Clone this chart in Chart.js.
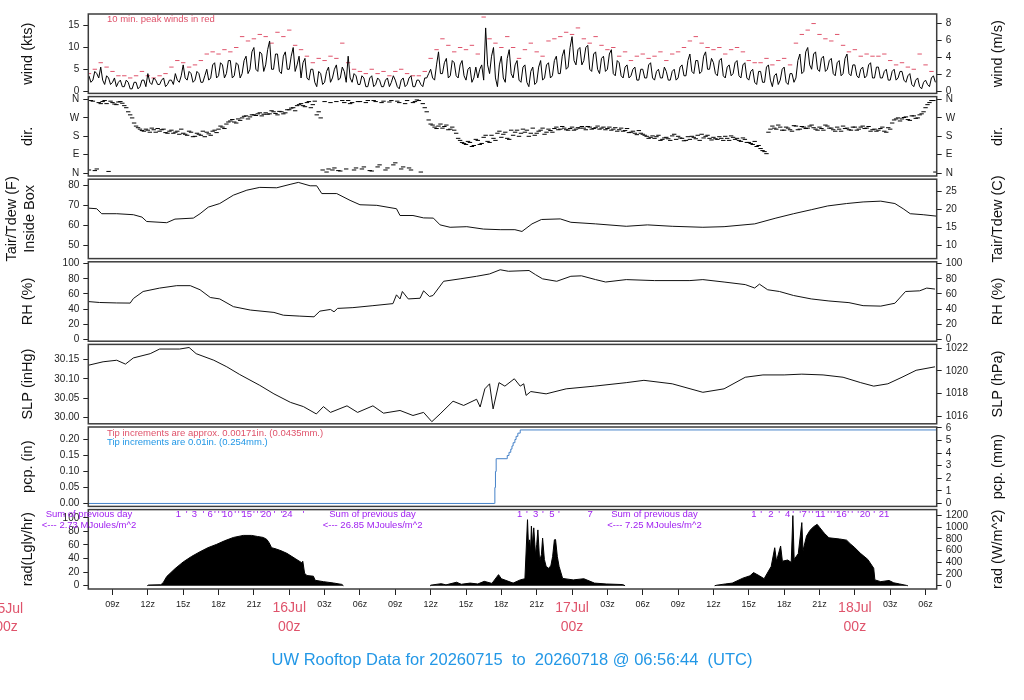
<!DOCTYPE html>
<html>
<head>
<meta charset="utf-8">
<script src="https://cdn.jsdelivr.net/npm/chart.js@4/dist/chart.umd.min.js"></script>
<style>
  body { margin: 0; background: #fff; }
  #wrap { position: relative; width: 1024px; height: 700px; overflow: hidden; }
  #wrap canvas { position: absolute; left: 0; top: 0; }
</style>
</head>
<body>
<div id="wrap"></div>
<script>
// time axis is hours since 15Jul 00z
var X0 = 6.946, X1 = 78.946;
var xTickHours = [9, 12, 15, 18, 21, 24, 27, 30, 33, 36, 39, 42, 45, 48, 51, 54, 57, 60, 63, 66, 69, 72, 75, 78];
var dayNames = ['15Jul', '16Jul', '17Jul', '18Jul'];

// wind speed (kts), one reading every 10 min from 07z
var windStart = 7, windStep = 1 / 6;
var windKts = [
  3.5, 2, 2.5, 4.5, 4, 3,    5.5, 2.5, 1.5, 3.5, 3, 1.5,    2, 3, 1, 2, 2.5, 1,
  1, 2.5, 2, 0.5, 0.5, 2,    2, 0.5, 1, 2.5, 2.5, 1,        4, 2, 1.5, 3, 2.5, 1.5,
  1.5, 2.5, 3, 1, 1.5, 2.5,  2.5, 1.5, 4, 2.5, 2, 3.5,      6, 3, 2.5, 4.5, 4, 2,
  2.5, 4.5, 4, 2, 2, 3.5,    5, 2.5, 3, 6, 6.5, 3,          3.5, 6.5, 6, 3, 4, 7,
  7, 3, 3.5, 6.5, 6, 3,      4, 7, 8, 4, 5, 9,              10, 5, 4.5, 9, 8.5, 4.5,
  6, 9.5, 11.5, 5, 5, 8.5,   8.5, 4.5, 4, 8, 9, 5,          5, 8, 10, 4.5, 6, 8,
  3, 6.5, 7.5, 3, 2.5, 5,    5, 2, 1, 4.5, 4, 1.5,          2, 4.5, 5.5, 2, 3, 5,
  6, 2.5, 3, 5.5, 4.5, 2,    8, 3, 2, 4, 3.5, 1.5,          1.5, 3.5, 3, 1, 1, 3,
  3.5, 1, 1.5, 3, 2.5, 1,    1, 2.5, 3, 1, 2, 3.5,          2.5, 1, 0.5, 2.5, 3, 1,
  1.5, 3, 3.5, 1, 1, 2.5,    2.5, 1.5, 1, 3, 3, 4,          5, 3, 2.5, 6, 9, 4,
  4, 6.5, 7.5, 3, 3.5, 7,    6.5, 3.5, 3, 6, 7, 3.5,        2.5, 5, 5.5, 2, 3, 5.5,
  3, 5, 6, 2.5, 14.5, 6,     4, 8, 10, 3, 1, 6,             8, 3, 2, 7.5, 9.5, 4,
  3, 6, 7, 2.5, 2, 5.5,      6, 2, 1, 4.5, 5.5, 1.5,        2, 5.5, 7, 2.5, 3, 6,
  6.5, 3, 3.5, 7, 8, 4,      4, 8, 9.5, 5, 5.5, 10,         12.5, 7, 6, 9.5, 10, 6,
  7, 10, 10.5, 5, 4.5, 8.5,  9, 5, 4, 7.5, 8, 4.5,          5, 8.5, 9.5, 4, 3.5, 7,
  6.5, 3.5, 3, 5.5, 6, 3,    3.5, 5, 5.5, 2.5, 2.5, 5,      5, 3, 3, 6, 6.5, 3,
  2.5, 4.5, 5, 3, 3, 5.5,    4.5, 2.5, 2.5, 4.5, 5, 2.5,    3, 5.5, 6, 3.5, 3.5, 7,
  8.5, 4.5, 4, 7, 7, 4,      4.5, 8, 9, 5, 5, 7.5,          6.5, 4, 3.5, 7, 7.5, 3.5,
  3, 5.5, 6, 3.5, 4, 6.5,    7, 3.5, 3, 6, 6.5, 3,          2.5, 4.5, 5, 2, 1.5, 4.5,
  4.5, 2, 2, 5.5, 6, 2.5,    1, 3.5, 4, 1.5, 2.5, 5,        5.5, 2, 1.5, 4, 4, 2,
  3, 7, 8.5, 4, 4.5, 9,      10, 6, 5, 8.5, 9, 5,           4.5, 7.5, 8, 4.5, 5, 7,
  7.5, 4, 3.5, 6.5, 7, 3.5,  4, 7.5, 8.5, 4, 3.5, 6,        6, 3.5, 3, 5, 5.5, 3,
  3.5, 6, 6.5, 3, 3, 5.5,    5.5, 3, 3, 4.5, 5, 2.5,        2.5, 4.5, 5, 2.5, 3, 4.5,
  4.5, 2.5, 2, 3.5, 4, 1.5,  1, 2.5, 3, 1, 0.5, 2,          2.5, 1.5, 1, 3, 3.5, 2
];
// 10 min peak wind (kts), every 30 min from 07z
var peakStart = 7, peakStep = 0.5;
var peakKts = [
  4, 5,   6.5, 5.5,   4.5, 3.5,   3.5, 3,   3.5, 4.5,   3.5, 3,   3.5, 4,   5.5, 7,
  6.5, 5.5,   6, 7,   8.5, 9,   8.5, 9.5,   9, 10,   12.5, 11.5,   12, 13,   12.5, 11,
  13.5, 12.5,   14, 10.5,   9.5, 8,   6.5, 7.5,   7, 8,   7.5, 11,   6.5, 5,   4.5, 4,
  5, 4,   4.5, 3.5,   4.5, 5,   4, 3.5,   3.5, 4.5,   7.5, 9.5,   12, 10.5,   9, 10,
  9.5, 10.5,   8.5, 17,   12, 11,   10, 12.5,   10, 7.5,   9.5, 11,   9, 8,   11.5, 12,
  12.5, 13.5,   13, 14.5,   12, 11,   12.5, 10.5,   9.5, 10,   8, 9,   7, 8,   8.5, 7.5,
  8, 9,   7, 8.5,   9, 10,   11.5, 12.5,   11, 10,   9.5, 10,   8.5, 9.5,   10, 9,
  7, 6.5,   6.5, 7.5,   6, 7,   7.5, 6,   11, 13,   14, 15.5,   13, 12,   11.5, 13,
  10.5, 9,   9.5, 8,   8.5, 8,   8, 8.5,   7, 6,   6.5, 5.5,   5, 8.5,   6, 4.5
];
// wind direction (deg), two interleaved 20 min series from 07z and 07:10z
var dirStart = 7, dirStart2 = 7 + 1 / 6, dirStep = 1 / 3;
var dirDeg = [
  15, 352, 20,   340, 355, 8,   345, 335, 350,   330, 300, 270,   230, 215, 205,   210, 220, 200,
  205, 215, 195,   210, 200, 190,   195, 185, 200,   180, 190, 205,   200, 185, 210,   215, 225, 240,
  255, 250, 265,   270, 280, 275,   285, 290, 280,   295, 290, 300,   285, 300, 295,   310, 320, 330,
  340, 325, 350,   335, 285, 270,   350, 20, 15,   350, 10, 345,   355, 345, 25,   350, 30, 355,
  10, 350, 40,   352, 25, 355,   50, 345, 30,   355, 15, 350,   355, 340, 300,   240, 225, 230,
  220, 235, 215,   210, 170, 150,   140, 150, 135,   160, 145, 185,   150, 170, 195,   175, 200, 165,
  185, 210, 195,   200, 180, 220,   195, 210, 190,   215, 200, 225,   215, 220, 210,   225, 215, 220,
  220, 228, 215,   222, 215, 225,   218, 210, 222,   212, 205, 218,   200, 195, 208,   190, 180, 175,
  170, 185, 165,   175, 160, 190,   180, 170, 160,   165, 175, 185,   190, 180, 170,   175, 165, 170,
  180, 160, 175,   170, 155, 165,   150, 140, 130,   120, 105, 200,   230, 215, 225,   210, 220, 205,
  230, 215, 225,   220, 235, 215,   225, 210, 230,   220, 205, 215,   230, 220, 210,   225, 215, 230,
  220, 205, 215,   210, 225, 200,   215, 260, 270,   265, 275, 258,   280, 270, 290,   320, 345, 355
];
var dirDeg2 = [
  355, 12, 345,   350, 340, 352,   338, 348, 342,   320, 285, 245,   222, 208, 215,   200, 212, 218,
  212, 198, 205,   195, 205, 215,   190, 205, 178,   195, 185, 178,   192, 205, 198,   230, 218, 250,
  262, 245, 258,   278, 265, 285,   282, 295, 288,   288, 305, 292,   302, 290, 310,   318, 305, 335,
  330, 345, 320,   352, 300, 15,   5, 345, 25,   12, 355, 20,   340, 15, 350,   20, 345, 12,
  355, 30, 345,   15, 348, 40,   352, 20, 340,   25, 345, 358,   5, 320, 260,   235, 218, 240,
  228, 212, 225,   195, 160, 145,   155, 130, 165,   140, 175, 155,   185, 160, 205,   190, 170, 210,
  200, 180, 215,   210, 195, 185,   205, 220, 200,   208, 218, 212,   228, 212, 218,   210, 222, 228,
  212, 225, 218,   230, 220, 212,   225, 215, 205,   220, 208, 198,   205, 188, 195,   185, 170, 182,
  178, 160, 172,   168, 182, 165,   172, 158, 178,   180, 168, 160,   172, 185, 162,   168, 178, 160,
  170, 182, 165,   160, 172, 150,   145, 155, 135,   110, 95, 215,   220, 235, 210,   225, 212, 232,
  212, 228, 218,   230, 222, 210,   218, 235, 220,   212, 225, 205,   218, 212, 225,   210, 225, 218,
  228, 212, 205,   218, 205, 222,   245, 265, 255,   272, 262, 280,   268, 285, 300,   335, 355, 5
];
var dirTicks = [0, 90, 180, 270, 360];
var dirNames = ['N', 'E', 'S', 'W', 'N'];

// air temperature inside box (F)
var tairT = [6.95, 7.66, 8.08, 9.36, 10.77, 11.5, 11.9, 13.6, 14.3, 15.86, 16.43, 17.13, 18.1, 19.26, 20.4, 21.5,
  22.94, 24.07, 24.77, 25.77, 26.33, 26.76, 28.03, 29.16, 30.0, 31.43, 33.1, 33.4, 34.5, 35.4, 36.23, 36.8,
  37.65, 39.07, 40.48, 41.9, 43.15, 43.75, 44.6, 45.4, 47.0, 47.9, 50.0, 52.6, 54.4, 56.5, 59.1, 60.9,
  63.5, 65.3, 66.8, 68.3, 69.7, 71.3, 72.7, 74.2, 75.4, 76.1, 76.7, 77.8, 78.9];
var tairF = [68.5, 68.2, 65.7, 65.7, 65.2, 64.0, 61.8, 61.2, 63.0, 63.5, 65.7, 69.0, 70.8, 75.0, 77.5, 78.9,
  78.7, 80.4, 81.4, 79.7, 79.7, 75.8, 75.8, 72.4, 70.2, 69.9, 68.2, 64.8, 64.8, 63.6, 63.5, 60.1,
  58.9, 59.2, 58.0, 57.7, 57.7, 56.8, 60.6, 62.8, 63.1, 61.4, 60.6, 59.4, 60.1, 59.4, 58.9, 59.2,
  60.6, 63.5, 65.7, 67.7, 69.6, 70.8, 71.6, 72.0, 70.8, 68.2, 65.7, 65.2, 64.5];
var tairTicksF = [50, 60, 70, 80];
var tairTicksC = [10, 15, 20, 25];

// relative humidity (%)
var rhT = [6.95, 7.9, 9.36, 10.5, 10.77, 11.6, 13.0, 14.45, 15.6, 16.43, 17.3, 18.1, 19.26, 20.7, 22.7, 23.5,
  24.9, 26.1, 26.6, 27.5, 27.8, 28.1, 29.4, 31.1, 32.8, 33.1, 33.4, 33.6, 34.1, 35.1, 35.4, 35.9,
  36.2, 37.1, 38.5, 39.9, 41.0, 41.9, 42.6, 44.35, 44.9, 45.5, 46.7, 47.9, 48.8, 50.0, 50.85, 52.6,
  55.0, 58.0, 59.1, 60.9, 62.7, 63.5, 63.9, 64.6, 65.6, 66.8, 68.3, 69.8, 71.5, 72.7, 74.2, 75.4,
  76.3, 77.5, 78.1, 78.8];
var rhV = [50, 48.8, 48.2, 48, 54, 63.3, 67.8, 71, 71, 65.6, 55.4, 53.5, 43.3, 38.8, 35.7, 32,
  30.8, 29.9, 37.4, 39.6, 36.5, 41, 42, 44.6, 47.3, 58.9, 53.5, 63.3, 53.5, 54.4, 64.2, 56.7,
  58, 76.8, 80, 83.4, 86.5, 92, 90, 91, 85.5, 80, 76.8, 83.4, 84, 79, 75.8, 79,
  77.7, 77.7, 79, 75.8, 72.4, 67.9, 73, 65.6, 63.3, 58, 53.5, 50.8, 48.6, 44.6, 44, 47.8,
  63.3, 64.2, 67.8, 66.5];
var rhTicks = [0, 20, 40, 60, 80, 100];

// sea level pressure (inHg)
var slpT = [6.95, 8.2, 9.36, 10.1, 10.77, 12.2, 13.0, 14.7, 15.5, 16.1, 17.6, 18.7, 19.8, 21.5, 22.7, 24.1,
  25.2, 26.3, 26.9, 27.5, 28.9, 29.8, 31.1, 32.0, 33.4, 34.5, 35.4, 36.1, 36.8, 37.9, 38.8, 39.9,
  40.2, 40.6, 41.0, 41.3, 41.8, 42.3, 43.1, 43.6, 43.9, 44.1, 44.5, 45.8, 47.5, 49.9, 52.6, 54.1,
  56.5, 59.1, 60.9, 62.7, 64.2, 66.0, 67.5, 69.3, 71.0, 72.5, 73.6, 74.8, 76.0, 77.2, 78.8];
var slpV = [30.135, 30.144, 30.148, 30.138, 30.154, 30.165, 30.177, 30.177, 30.181, 30.165, 30.148, 30.131,
  30.111, 30.083, 30.061, 30.039, 30.028, 30.009, 30.028, 30.013, 30.030, 30.013, 30.030, 30.011,
  30.018, 30.005, 30.013, 29.989, 30.009, 30.042, 30.031, 30.047, 30.027, 30.074, 30.087, 30.022,
  30.090, 30.081, 30.100, 30.081, 30.087, 30.057, 30.067, 30.061, 30.074, 30.081, 30.090, 30.096,
  30.087, 30.065, 30.074, 30.104, 30.110, 30.110, 30.112, 30.110, 30.104, 30.090, 30.081, 30.087,
  30.104, 30.122, 30.131];
var slpTicksIn = [30.00, 30.05, 30.10, 30.15];
var slpTicksHpa = [1016, 1018, 1020, 1022];

// accumulated precipitation (in)
var pcpT = [6.946, 41.40, 41.45, 41.50, 41.56, 42.40, 42.50, 42.65, 42.80, 42.90, 43.00, 43.15, 43.25, 43.40, 43.60, 78.946];
var pcpIn = [0, 0, 0.05, 0.10, 0.14, 0.14, 0.15, 0.16, 0.17, 0.18, 0.19, 0.20, 0.21, 0.22, 0.23, 0.23];
var pcpTicksIn = [0, 0.05, 0.10, 0.15, 0.20];
var pcpTicksMm = [0, 1, 2, 3, 4, 5, 6];

// solar radiation (W/m^2), null = night gap
var radT = [11.95, 12.05, 13.1, 13.3, 13.6, 14.3, 15.0, 15.7, 16.43, 17.1, 17.85, 18.5, 19.26, 20.1, 20.8, 21.3,
  21.8, 22.1, 22.3, 22.5, 22.9, 23.3, 23.8, 24.5, 25.05, 25.15, 25.3, 25.5, 26.05, 26.2, 26.9, 27.75, 28.46, 28.6,
  32,
  35.95, 36.0, 36.9, 37.3, 38.2, 38.6, 39.35, 40.0, 40.55, 41.2, 41.76, 42.0, 43.0, 43.6, 44.0, 44.22,
  44.3, 44.4, 44.48, 44.55, 44.65, 44.75, 44.9, 45.0, 45.1, 45.25, 45.4, 45.5, 45.65, 45.8, 46.0, 46.2,
  46.35, 46.5, 46.6, 46.75, 46.9, 47.2, 48.1, 49.0, 49.9, 50.9, 52.3, 52.5,
  56,
  60.1, 60.3, 61.0, 61.6, 62.5, 63.1, 63.4, 63.9, 64.3, 64.9, 65.2, 65.35, 65.7, 65.85, 66.3, 66.6,
  66.74, 66.85, 67.2, 67.5, 67.6, 67.9, 68.2, 68.5, 68.8, 69.0, 69.4, 69.8, 70.7, 71.3, 71.6, 72.0,
  72.5, 73.1, 73.6, 73.7, 74.2, 74.9, 75.3, 75.8, 76.4, 76.5];
var radW = [0, 12, 17, 52, 157, 291, 407, 500, 582, 651, 709, 768, 826, 861, 861, 843,
  826, 791, 733, 651, 628, 599, 554, 465, 395, 419, 215, 174, 163, 93, 70, 47, 23, 0,
  null,
  0, 10, 35, 15, 60, 25, 45, 30, 75, 40, 190, 120, 45, 100, 120, 1130,
  700, 785, 600, 1020, 700, 990, 535, 700, 955, 420, 535, 815, 450, 330, 300, 340,
  500, 785, 790, 500, 330, 125, 100, 120, 45, 30, 20, 0,
  null,
  0, 10, 30, 45, 130, 170, 225, 170, 120, 330, 650, 420, 680, 420, 440, 400,
  1200, 450, 550, 1080, 600, 850, 950, 1010, 1050, 1000, 900, 820, 800, 780, 720, 650,
  550, 450, 300, 100, 70, 90, 50, 30, 5, 0];
var radTicksL = [0, 20, 40, 60, 80, 100];
var radTicksW = [0, 200, 400, 600, 800, 1000, 1200];

// hourly marks and daily sums written along the top of the radiation panel
var radMarkT = [14.59, 15.30, 15.94, 16.71, 17.28, 17.70, 18.0, 18.3, 18.75, 19.4, 19.7, 20.0, 20.39, 21.0, 21.3, 21.6,
  22.03, 22.74, 23.36, 23.84, 25.2,
  43.56, 44.16, 44.92, 45.52, 46.28, 46.88, 49.53,
  63.43, 64.05, 64.87, 65.58, 66.29, 66.77, 67.36, 67.7, 68.13, 68.42, 68.72, 69.09, 69.74, 69.99, 70.25, 70.5,
  70.87, 71.44, 71.78, 72.29, 72.86, 73.64, 74.47];
var radMarkLbl = ['1', "'", '3', "'", '6', "'", "'", "'", '10', "'", "'", "'", '15', "'", "'", "'",
  '20', "'", "'", '24', "'",
  '1', "'", '3', "'", '5', "'", '7',
  '1', "'", '2', "'", '4', "'", "'", '7', "'", "'", "'", '11', "'", "'", "'", "'",
  '16', "'", "'", "'", '20', "'", '21'];
var radSumT = [7.0, 31.07, 55.0];
var radSumMJ = ['2.73', '26.85', '7.25'];

var windTicksKts = [0, 5, 10, 15];
var windTicksMs = [0, 2, 4, 6, 8];

var FONT = "'Liberation Sans', Arial, Helvetica, sans-serif";
var RED = '#DF536B', BLUE = '#2297E6', PURPLE = '#A020F0', INK = '#222';
var wrap = document.getElementById('wrap');

function pts(xs, ys) {
  return xs.map(function (x, i) { return {x: x, y: ys[i]}; });
}
function regular(start, step, ys) {
  return ys.map(function (y, i) { return {x: start + i * step, y: y}; });
}

function yAxis(pos, min, max, ticks, fmt) {
  return {
    type: 'linear', position: pos, min: min, max: max,
    grid: {drawOnChartArea: false, drawTicks: true, tickLength: 5, color: INK},
    border: {display: false},
    ticks: {font: {family: FONT, size: 10}, color: INK, padding: 4, autoSkip: false,
      callback: function (v, i) { return fmt(v, i); }},
    afterBuildTicks: function (s) { s.ticks = ticks.map(function (v) { return {value: v}; }); },
    afterFit: function (s) { s.width = pos === 'left' ? 88.3 : 1024 - 936.7; }
  };
}

function hourLabel(v) {
  var h = Math.round(v);
  if (h % 24 === 0) { return [dayNames[h / 24], '00z']; }
  var z = h % 24;
  return (z < 10 ? '0' : '') + z + 'z';
}

function xAxis(shown) {
  if (!shown) { return {type: 'linear', min: X0, max: X1, display: false}; }
  return {
    type: 'linear', min: X0, max: X1, position: 'bottom',
    grid: {drawOnChartArea: false, tickLength: 6, color: INK},
    border: {display: false},
    afterBuildTicks: function (s) { s.ticks = xTickHours.map(function (h) { return {value: h}; }); },
    afterFit: function (s) { s.height = 60; },
    ticks: {
      autoSkip: false, maxRotation: 0, minRotation: 0, padding: 4.5,
      callback: function (v) { return hourLabel(v); },
      color: function (c) { return c.tick && c.tick.value % 24 === 0 ? RED : INK; },
      font: function (c) {
        return c.tick && c.tick.value % 24 === 0 ? {family: FONT, size: 14, lineHeight: 1.3} : {family: FONT, size: 9};
      }
    }
  };
}

function text(ctx, s, x, y, size, color, align) {
  ctx.font = size + 'px ' + FONT;
  ctx.fillStyle = color;
  ctx.textAlign = align || 'left';
  ctx.textBaseline = 'middle';
  ctx.fillText(s, x, y);
}
function vtext(ctx, s, x, y) {
  ctx.save();
  ctx.translate(x, y);
  ctx.rotate(-Math.PI / 2);
  text(ctx, s, 0, 0, 14.5, '#111', 'center');
  ctx.restore();
}

function panel(i, datasets, yl, yr, titles, extra) {
  var top = 14 + i * 82.6, bottom = top + 79.4, last = i === 6;
  var cv = document.createElement('canvas');
  cv.width = 1024; cv.height = 700;
  wrap.appendChild(cv);
  return new Chart(cv, {
    type: 'line',
    data: {datasets: datasets},
    options: {
      responsive: false, animation: false,
      layout: {padding: {top: top, bottom: 700 - bottom - (last ? 60 : 0), left: 0, right: 0}},
      plugins: {legend: {display: false}, tooltip: {enabled: false}},
      scales: {x: xAxis(last), y: yl, y2: yr}
    },
    plugins: [{
      id: 'decor' + i,
      afterDraw: function (chart) {
        var ctx = chart.ctx, a = chart.chartArea, mid = (a.top + a.bottom) / 2;
        ctx.save();
        ctx.strokeStyle = '#3c3c3c';
        ctx.lineWidth = 1.5;
        ctx.strokeRect(a.left, a.top, a.right - a.left, a.bottom - a.top);
        if (Array.isArray(titles[0])) {
          vtext(ctx, titles[0][0], 12, mid);
          vtext(ctx, titles[0][1], 30, mid);
        } else {
          vtext(ctx, titles[0], 28, mid);
        }
        vtext(ctx, titles[1], 998, mid);
        if (extra) { extra(ctx, chart, a); }
        ctx.restore();
      }
    }]
  });
}

function lineSet(data, axis, color) {
  return {data: data, yAxisID: axis, borderColor: color || '#111', borderWidth: 1,
    pointRadius: 0, tension: 0, fill: false};
}
function dashSet(data, axis, color) {
  return {data: data, yAxisID: axis, showLine: false, pointStyle: 'line', pointRadius: 2.2,
    borderColor: color, pointBorderColor: color, pointBorderWidth: 1, borderWidth: 1};
}
function num(v) { return String(v); }

// 1 wind
panel(0, [
    lineSet(regular(windStart, windStep, windKts), 'y', '#000'),
    dashSet(regular(peakStart, peakStep, peakKts), 'y', RED)
  ],
  yAxis('left', -0.55, 17.7, windTicksKts, num),
  yAxis('right', -0.55 * 0.514444, 17.7 * 0.514444, windTicksMs, num),
  ['wind (kts)', 'wind (m/s)'],
  function (ctx) { text(ctx, '10 min. peak winds in red', 107, 19.5, 9.5, RED); });

// 2 direction
panel(1, [
    dashSet(regular(dirStart, dirStep, dirDeg), 'y', '#000'),
    dashSet(regular(dirStart2, dirStep, dirDeg2), 'y', '#000')
  ],
  yAxis('left', -14.4, 374.4, dirTicks, function (v, i) { return dirNames[i]; }),
  yAxis('right', -14.4, 374.4, dirTicks, function (v, i) { return dirNames[i]; }),
  ['dir.', 'dir.']);

// 3 temperature
panel(2, [lineSet(pts(tairT, tairF), 'y')],
  yAxis('left', 43.2, 83, tairTicksF, num),
  yAxis('right', (43.2 - 32) / 1.8, (83 - 32) / 1.8, tairTicksC, num),
  [['Tair/Tdew (F)', 'Inside Box'], 'Tair/Tdew (C)']);

// 4 humidity
panel(3, [lineSet(pts(rhT, rhV), 'y')],
  yAxis('left', -2.3, 102.5, rhTicks, num),
  yAxis('right', -2.3, 102.5, rhTicks, num),
  ['RH (%)', 'RH (%)']);

// 5 pressure
panel(4, [lineSet(pts(slpT, slpV), 'y')],
  yAxis('left', 29.9835, 30.189, slpTicksIn, function (v) { return v.toFixed(2); }),
  yAxis('right', 29.9835 * 33.8639, 30.189 * 33.8639, slpTicksHpa, num),
  ['SLP (inHg)', 'SLP (hPa)']);

// 6 precipitation
var pcpSet = lineSet(pts(pcpT, pcpIn), 'y', '#4682C8');
pcpSet.stepped = true;
panel(5, [pcpSet],
  yAxis('left', -0.0092, 0.2392, pcpTicksIn, function (v) { return v.toFixed(2); }),
  yAxis('right', -0.0092 * 25.4, 0.2392 * 25.4, pcpTicksMm, num),
  ['pcp. (in)', 'pcp. (mm)'],
  function (ctx) {
    text(ctx, 'Tip increments are approx. 0.00171in. (0.0435mm.)', 107, 433.3, 9.5, RED);
    text(ctx, 'Tip increments are 0.01in. (0.254mm.)', 107, 442.3, 9.5, BLUE);
  });

// 7 radiation
var radSet = {data: pts(radT, radW), yAxisID: 'y2', borderColor: '#000', backgroundColor: '#000',
  borderWidth: 1, pointRadius: 0, tension: 0, fill: 'origin', spanGaps: false};
panel(6, [radSet],
  yAxis('left', -4.8, 112, radTicksL, num),
  yAxis('right', -4.8 * 11.63, 112 * 11.63, radTicksW, num),
  ['rad(Lgly/hr)', 'rad (W/m^2)'],
  function (ctx, chart) {
    var xs = chart.scales.x;
    radMarkT.forEach(function (h, k) {
      text(ctx, radMarkLbl[k], xs.getPixelForValue(h), 514.5, 9.5, PURPLE, 'center');
    });
    radSumT.forEach(function (h, k) {
      var x = xs.getPixelForValue(h);
      text(ctx, 'Sum of previous day', x, 514.5, 9.5, PURPLE, 'center');
      text(ctx, '<--- ' + radSumMJ[k] + ' MJoules/m^2', x, 525.5, 9.5, PURPLE, 'center');
    });
    // first day's 00z falls left of the plotted range
    var x0 = xs.getPixelForValue(0);
    text(ctx, dayNames[0], x0, 609, 14, RED, 'center');
    text(ctx, '00z', x0, 627, 14, RED, 'center');
    text(ctx, 'UW Rooftop Data for 20260715  to  20260718 @ 06:56:44  (UTC)', 512, 660, 16.5, BLUE, 'center');
  });
</script>
</body>
</html>
